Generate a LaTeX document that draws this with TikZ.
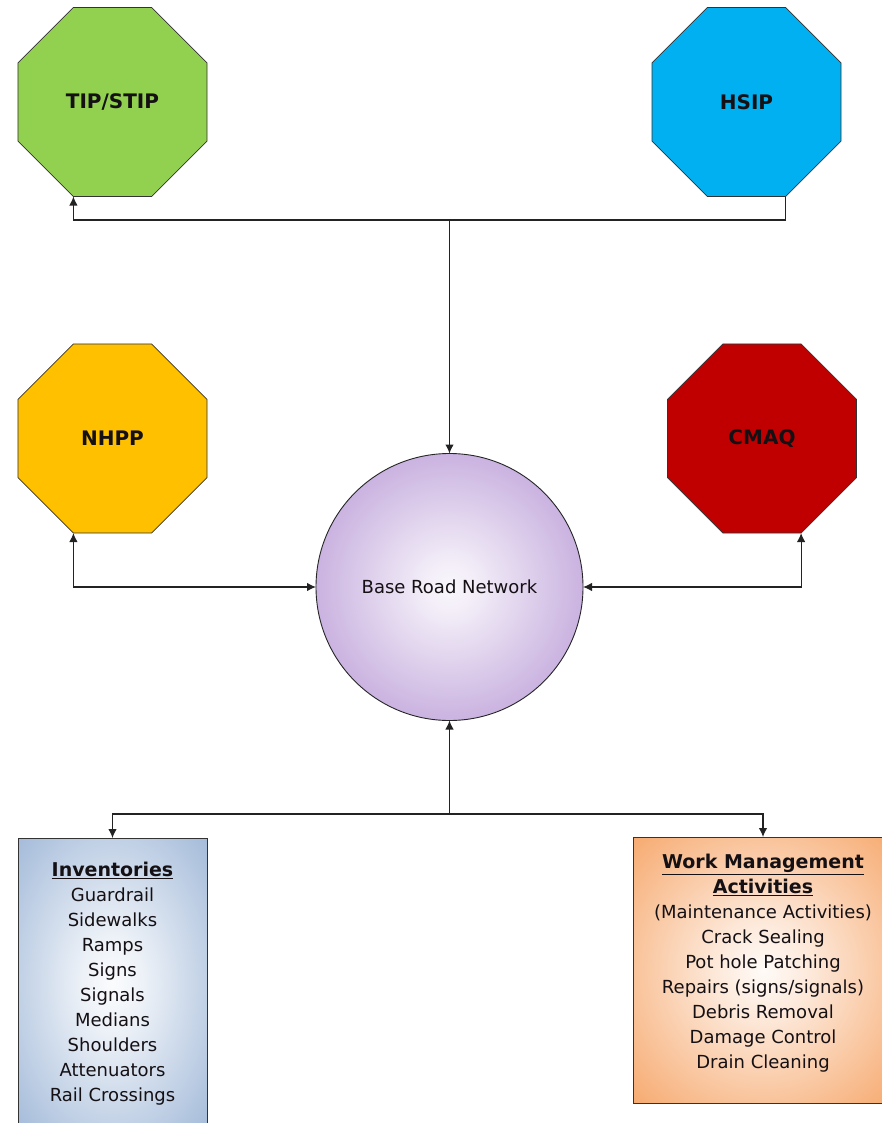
\documentclass[tikz,border=0pt]{standalone}
\usepackage{fontspec}
\setmainfont{DejaVu Sans}
\usetikzlibrary{shapes.geometric,arrows.meta,calc}
\definecolor{tipG}{RGB}{146,208,80}
\definecolor{hsipB}{RGB}{0,176,240}
\definecolor{nhppY}{RGB}{255,192,0}
\definecolor{cmaqR}{RGB}{192,0,0}
\definecolor{purpC}{RGB}{164,124,202}
\definecolor{invB}{RGB}{136,166,206}
\definecolor{wmO}{RGB}{244,145,70}
\definecolor{txtC}{RGB}{20,16,20}
\definecolor{lineC}{RGB}{35,35,35}
\pgfdeclareradialshading{purpshade}{\pgfpoint{0bp}{0bp}}{color(0bp)=(purpC!6); color(5bp)=(purpC!14); color(44bp)=(purpC); color(50bp)=(purpC)}
\pgfdeclareradialshading{invshade}{\pgfpoint{0bp}{0bp}}{color(0bp)=(invB!4); color(8bp)=(invB!15); color(46bp)=(invB); color(50bp)=(invB)}
\pgfdeclareradialshading{wmshade}{\pgfpoint{0bp}{0bp}}{color(0bp)=(wmO!4); color(8bp)=(wmO!18); color(46bp)=(wmO); color(50bp)=(wmO)}
\tikzset{
  oct/.style={regular polygon, regular polygon sides=8, minimum size=204.6pt,
    inner sep=0pt, outer sep=0pt, draw=black!80, line width=0.8pt, line join=round,
    text=txtC, font=\bfseries\fontsize{20}{24}\selectfont},
  lbl/.style={text=txtC, align=center, inner sep=0pt, font=\fontsize{18}{25}\selectfont},
  boxx/.style={rectangle, inner sep=0pt, outer sep=0pt, draw=black!80, line width=1pt, shade},
  conn/.style={draw=lineC, line width=1.2pt},
  >={Latex[length=9pt,width=8.5pt]}
}
\newcommand{\ttlline}[1]{{\bfseries\fontsize{19}{25}\selectfont\underline{#1}}}
\begin{document}
\begin{tikzpicture}[x=1pt,y=-1pt]
\path[use as bounding box, clip] (0,0) rectangle (882,1123);
\fill[white] (0,0) rectangle (882,1123);

\node[oct, fill=tipG] (tip) at (112.5,102) {TIP/STIP};
\node[oct, fill=hsipB] (hsip) at (746.5,102) {HSIP};
\node[oct, fill=nhppY] (nhpp) at (112.5,438.5) {NHPP};
\node[oct, fill=cmaqR] (cmaq) at (762,438.5) {CMAQ};

\node[circle, minimum size=267pt, inner sep=0pt, outer sep=0pt, draw=black!85, line width=0.9pt,
  shade, shading=purpshade, lbl] (brn) at (449.5,587) {Base Road Network};

\node[boxx, shading=invshade, minimum width=189pt, minimum height=292pt] (inv) at (112.5,984) {};
\node[boxx, shading=wmshade, minimum width=260pt, minimum height=266pt] (wm) at (763,970) {};

\node[lbl, anchor=north] (invt) at (112.5,862) {\ttlline{Inventories}\\Guardrail\\Sidewalks\\Ramps\\Signs\\Signals\\Medians\\Shoulders\\Attenuators\\Rail Crossings};
\node[lbl, anchor=north] (wmt) at (763,854) {\ttlline{Work Management}\\\ttlline{Activities}\\(Maintenance Activities)\\Crack Sealing\\Pot hole Patching\\Repairs (signs/signals)\\Debris Removal\\Damage Control\\Drain Cleaning};

\coordinate (jt) at (449.5,220);
\coordinate (jb) at (449.5,814);
\coordinate (tipc) at ($(tip.south)+(-39.1,0)$);
\coordinate (hsipc) at ($(hsip.south)+(39.1,0)$);
\coordinate (nhppc) at ($(nhpp.south)+(-39.1,0)$);
\coordinate (cmaqc) at ($(cmaq.south)+(39.1,0)$);

\draw[conn, ->] (jt) -- (brn.north);
\draw[conn, <-] (tipc) -- (tipc |- jt) -- (hsipc |- jt) -- (hsipc);
\draw[conn, <->] (nhppc) |- (brn.west);
\draw[conn, <->] (cmaqc) |- (brn.east);
\draw[conn, ->] (jb) -- (brn.south);
\draw[conn, <->] (inv.north) -- (inv.north |- jb) -- (wm.north |- jb) -- (wm.north);
\end{tikzpicture}
\end{document}
